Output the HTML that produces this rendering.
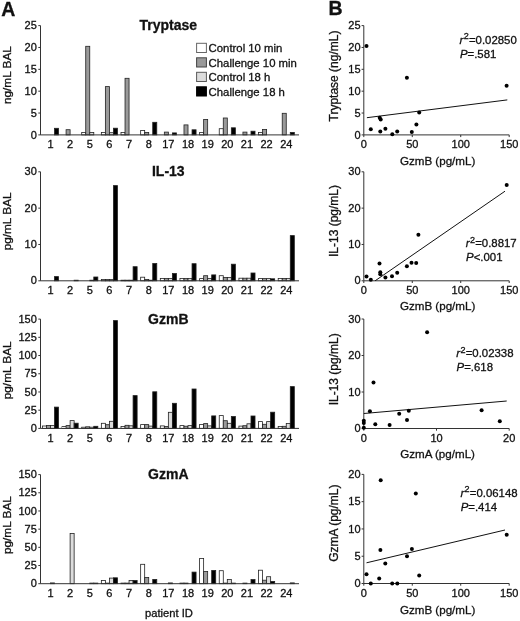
<!DOCTYPE html>
<html><head><meta charset="utf-8"><title>Figure</title>
<style>
html,body{margin:0;padding:0;background:#fff;}
body{width:520px;height:621px;overflow:hidden;}
svg{display:block;font-family:"Liberation Sans", sans-serif;filter:grayscale(100%) blur(0.3px);}
text{stroke:#111;stroke-width:0.3px;}
</style></head>
<body>
<svg width="520" height="621" viewBox="0 0 520 621">
<rect width="520" height="621" fill="#fff"/>
<text x="1.2" y="15.6" font-size="19.5" font-weight="bold" fill="#111">A</text>
<text x="328.6" y="14.8" font-size="19.5" font-weight="bold" fill="#111">B</text>
<text x="168.3" y="30.0" font-size="14.0" font-weight="bold" text-anchor="middle" fill="#111">Tryptase</text>
<rect x="54.49" y="128.3" width="4.03" height="6.6" fill="#000000" stroke="#222" stroke-width="0.8"/>
<text x="50.46" y="148.1" font-size="11.0" text-anchor="middle" fill="#111">1</text>
<rect x="66.08" y="129.7" width="4.03" height="5.2" fill="#9a9a9a" stroke="#222" stroke-width="0.8"/>
<text x="70.11" y="148.1" font-size="11.0" text-anchor="middle" fill="#111">2</text>
<rect x="81.7" y="132.4" width="4.03" height="2.5" fill="#ffffff" stroke="#222" stroke-width="0.8"/>
<rect x="85.73" y="46.3" width="4.03" height="88.6" fill="#9a9a9a" stroke="#222" stroke-width="0.8"/>
<rect x="89.76" y="132.4" width="4.03" height="2.5" fill="#dcdcdc" stroke="#222" stroke-width="0.8"/>
<text x="89.76" y="148.1" font-size="11.0" text-anchor="middle" fill="#111">5</text>
<rect x="101.35" y="132.4" width="4.03" height="2.5" fill="#ffffff" stroke="#222" stroke-width="0.8"/>
<rect x="105.38" y="86.6" width="4.03" height="48.3" fill="#9a9a9a" stroke="#222" stroke-width="0.8"/>
<rect x="109.41" y="132.7" width="4.03" height="2.2" fill="#dcdcdc" stroke="#222" stroke-width="0.8"/>
<rect x="113.44" y="128.2" width="4.03" height="6.7" fill="#000000" stroke="#222" stroke-width="0.8"/>
<text x="109.41" y="148.1" font-size="11.0" text-anchor="middle" fill="#111">6</text>
<rect x="121" y="132.4" width="4.03" height="2.5" fill="#ffffff" stroke="#222" stroke-width="0.8"/>
<rect x="125.03" y="78.3" width="4.03" height="56.6" fill="#9a9a9a" stroke="#222" stroke-width="0.8"/>
<text x="129.06" y="148.1" font-size="11.0" text-anchor="middle" fill="#111">7</text>
<rect x="140.65" y="130.5" width="4.03" height="4.4" fill="#ffffff" stroke="#222" stroke-width="0.8"/>
<rect x="144.68" y="132.4" width="4.03" height="2.5" fill="#9a9a9a" stroke="#222" stroke-width="0.8"/>
<rect x="152.74" y="122.3" width="4.03" height="12.6" fill="#000000" stroke="#222" stroke-width="0.8"/>
<text x="148.71" y="148.1" font-size="11.0" text-anchor="middle" fill="#111">8</text>
<rect x="164.33" y="132.1" width="4.03" height="2.8" fill="#9a9a9a" stroke="#222" stroke-width="0.8"/>
<rect x="172.39" y="132.9" width="4.03" height="2" fill="#000000" stroke="#222" stroke-width="0.8"/>
<text x="168.36" y="148.1" font-size="11.0" text-anchor="middle" fill="#111">17</text>
<rect x="183.98" y="124.9" width="4.03" height="10" fill="#9a9a9a" stroke="#222" stroke-width="0.8"/>
<rect x="192.04" y="129.8" width="4.03" height="5.1" fill="#000000" stroke="#222" stroke-width="0.8"/>
<text x="188.01" y="148.1" font-size="11.0" text-anchor="middle" fill="#111">18</text>
<rect x="199.6" y="132.4" width="4.03" height="2.5" fill="#ffffff" stroke="#222" stroke-width="0.8"/>
<rect x="203.63" y="119.4" width="4.03" height="15.5" fill="#9a9a9a" stroke="#222" stroke-width="0.8"/>
<text x="207.66" y="148.1" font-size="11.0" text-anchor="middle" fill="#111">19</text>
<rect x="219.25" y="128.7" width="4.03" height="6.2" fill="#ffffff" stroke="#222" stroke-width="0.8"/>
<rect x="223.28" y="118" width="4.03" height="16.9" fill="#9a9a9a" stroke="#222" stroke-width="0.8"/>
<rect x="231.34" y="127.8" width="4.03" height="7.1" fill="#000000" stroke="#222" stroke-width="0.8"/>
<text x="227.31" y="148.1" font-size="11.0" text-anchor="middle" fill="#111">20</text>
<rect x="242.93" y="132.1" width="4.03" height="2.8" fill="#9a9a9a" stroke="#222" stroke-width="0.8"/>
<rect x="250.99" y="131.2" width="4.03" height="3.7" fill="#000000" stroke="#222" stroke-width="0.8"/>
<text x="246.96" y="148.1" font-size="11.0" text-anchor="middle" fill="#111">21</text>
<rect x="258.55" y="132.5" width="4.03" height="2.4" fill="#ffffff" stroke="#222" stroke-width="0.8"/>
<rect x="262.58" y="129.4" width="4.03" height="5.5" fill="#9a9a9a" stroke="#222" stroke-width="0.8"/>
<text x="266.61" y="148.1" font-size="11.0" text-anchor="middle" fill="#111">22</text>
<rect x="282.23" y="113.3" width="4.03" height="21.6" fill="#9a9a9a" stroke="#222" stroke-width="0.8"/>
<rect x="290.29" y="132.4" width="4.03" height="2.5" fill="#000000" stroke="#222" stroke-width="0.8"/>
<text x="286.26" y="148.1" font-size="11.0" text-anchor="middle" fill="#111">24</text>
<path d="M40.5 25.6 V134.9 H299.0" fill="none" stroke="#333" stroke-width="1"/>
<path d="M38.3 134.9 H40.5" stroke="#333" stroke-width="1"/>
<text x="36.8" y="138.5" font-size="11.0" text-anchor="end" fill="#111">0</text>
<path d="M38.3 113.04 H40.5" stroke="#333" stroke-width="1"/>
<text x="36.8" y="116.64" font-size="11.0" text-anchor="end" fill="#111">5</text>
<path d="M38.3 91.18 H40.5" stroke="#333" stroke-width="1"/>
<text x="36.8" y="94.78" font-size="11.0" text-anchor="end" fill="#111">10</text>
<path d="M38.3 69.32 H40.5" stroke="#333" stroke-width="1"/>
<text x="36.8" y="72.92" font-size="11.0" text-anchor="end" fill="#111">15</text>
<path d="M38.3 47.46 H40.5" stroke="#333" stroke-width="1"/>
<text x="36.8" y="51.06" font-size="11.0" text-anchor="end" fill="#111">20</text>
<path d="M38.3 25.6 H40.5" stroke="#333" stroke-width="1"/>
<text x="36.8" y="29.2" font-size="11.0" text-anchor="end" fill="#111">25</text>
<text transform="translate(11.0 75.1) rotate(-90)" font-size="11.8" text-anchor="middle" fill="#111">ng/mL BAL</text>
<text x="168.3" y="175.8" font-size="14.0" font-weight="bold" text-anchor="middle" fill="#111">IL-13</text>
<rect x="54.49" y="276.6" width="4.03" height="4.2" fill="#000000" stroke="#222" stroke-width="0.8"/>
<text x="50.46" y="294" font-size="11.0" text-anchor="middle" fill="#111">1</text>
<rect x="74.14" y="280.2" width="4.03" height="0.6" fill="#000000" stroke="#222" stroke-width="0.8"/>
<text x="70.11" y="294" font-size="11.0" text-anchor="middle" fill="#111">2</text>
<rect x="89.76" y="280.2" width="4.03" height="0.6" fill="#dcdcdc" stroke="#222" stroke-width="0.8"/>
<rect x="93.79" y="277" width="4.03" height="3.8" fill="#000000" stroke="#222" stroke-width="0.8"/>
<text x="89.76" y="294" font-size="11.0" text-anchor="middle" fill="#111">5</text>
<rect x="101.35" y="279.5" width="4.03" height="1.3" fill="#ffffff" stroke="#222" stroke-width="0.8"/>
<rect x="105.38" y="279.5" width="4.03" height="1.3" fill="#9a9a9a" stroke="#222" stroke-width="0.8"/>
<rect x="109.41" y="279.5" width="4.03" height="1.3" fill="#dcdcdc" stroke="#222" stroke-width="0.8"/>
<rect x="113.44" y="185.6" width="4.03" height="95.2" fill="#000000" stroke="#222" stroke-width="0.8"/>
<text x="109.41" y="294" font-size="11.0" text-anchor="middle" fill="#111">6</text>
<rect x="121" y="280.2" width="4.03" height="0.6" fill="#ffffff" stroke="#222" stroke-width="0.8"/>
<rect x="125.03" y="280.2" width="4.03" height="0.6" fill="#9a9a9a" stroke="#222" stroke-width="0.8"/>
<rect x="129.06" y="280.2" width="4.03" height="0.6" fill="#dcdcdc" stroke="#222" stroke-width="0.8"/>
<rect x="133.09" y="266.7" width="4.03" height="14.1" fill="#000000" stroke="#222" stroke-width="0.8"/>
<text x="129.06" y="294" font-size="11.0" text-anchor="middle" fill="#111">7</text>
<rect x="140.65" y="277.2" width="4.03" height="3.6" fill="#ffffff" stroke="#222" stroke-width="0.8"/>
<rect x="144.68" y="279.4" width="4.03" height="1.4" fill="#9a9a9a" stroke="#222" stroke-width="0.8"/>
<rect x="148.71" y="280.2" width="4.03" height="0.6" fill="#dcdcdc" stroke="#222" stroke-width="0.8"/>
<rect x="152.74" y="263.5" width="4.03" height="17.3" fill="#000000" stroke="#222" stroke-width="0.8"/>
<text x="148.71" y="294" font-size="11.0" text-anchor="middle" fill="#111">8</text>
<rect x="160.3" y="278.4" width="4.03" height="2.4" fill="#ffffff" stroke="#222" stroke-width="0.8"/>
<rect x="164.33" y="278.4" width="4.03" height="2.4" fill="#9a9a9a" stroke="#222" stroke-width="0.8"/>
<rect x="168.36" y="278.4" width="4.03" height="2.4" fill="#dcdcdc" stroke="#222" stroke-width="0.8"/>
<rect x="172.39" y="273.5" width="4.03" height="7.3" fill="#000000" stroke="#222" stroke-width="0.8"/>
<text x="168.36" y="294" font-size="11.0" text-anchor="middle" fill="#111">17</text>
<rect x="179.95" y="278.4" width="4.03" height="2.4" fill="#ffffff" stroke="#222" stroke-width="0.8"/>
<rect x="183.98" y="278.4" width="4.03" height="2.4" fill="#9a9a9a" stroke="#222" stroke-width="0.8"/>
<rect x="188.01" y="278.4" width="4.03" height="2.4" fill="#dcdcdc" stroke="#222" stroke-width="0.8"/>
<rect x="192.04" y="263.7" width="4.03" height="17.1" fill="#000000" stroke="#222" stroke-width="0.8"/>
<text x="188.01" y="294" font-size="11.0" text-anchor="middle" fill="#111">18</text>
<rect x="199.6" y="278.6" width="4.03" height="2.2" fill="#ffffff" stroke="#222" stroke-width="0.8"/>
<rect x="203.63" y="275.7" width="4.03" height="5.1" fill="#9a9a9a" stroke="#222" stroke-width="0.8"/>
<rect x="207.66" y="278.4" width="4.03" height="2.4" fill="#dcdcdc" stroke="#222" stroke-width="0.8"/>
<rect x="211.69" y="274.9" width="4.03" height="5.9" fill="#000000" stroke="#222" stroke-width="0.8"/>
<text x="207.66" y="294" font-size="11.0" text-anchor="middle" fill="#111">19</text>
<rect x="219.25" y="275.7" width="4.03" height="5.1" fill="#ffffff" stroke="#222" stroke-width="0.8"/>
<rect x="223.28" y="277.5" width="4.03" height="3.3" fill="#9a9a9a" stroke="#222" stroke-width="0.8"/>
<rect x="227.31" y="277.5" width="4.03" height="3.3" fill="#dcdcdc" stroke="#222" stroke-width="0.8"/>
<rect x="231.34" y="264.2" width="4.03" height="16.6" fill="#000000" stroke="#222" stroke-width="0.8"/>
<text x="227.31" y="294" font-size="11.0" text-anchor="middle" fill="#111">20</text>
<rect x="238.9" y="278.2" width="4.03" height="2.6" fill="#ffffff" stroke="#222" stroke-width="0.8"/>
<rect x="242.93" y="278.2" width="4.03" height="2.6" fill="#9a9a9a" stroke="#222" stroke-width="0.8"/>
<rect x="246.96" y="278.2" width="4.03" height="2.6" fill="#dcdcdc" stroke="#222" stroke-width="0.8"/>
<rect x="250.99" y="273" width="4.03" height="7.8" fill="#000000" stroke="#222" stroke-width="0.8"/>
<text x="246.96" y="294" font-size="11.0" text-anchor="middle" fill="#111">21</text>
<rect x="258.55" y="278.6" width="4.03" height="2.2" fill="#ffffff" stroke="#222" stroke-width="0.8"/>
<rect x="262.58" y="278.6" width="4.03" height="2.2" fill="#9a9a9a" stroke="#222" stroke-width="0.8"/>
<rect x="266.61" y="278.6" width="4.03" height="2.2" fill="#dcdcdc" stroke="#222" stroke-width="0.8"/>
<rect x="270.64" y="278.8" width="4.03" height="2" fill="#000000" stroke="#222" stroke-width="0.8"/>
<text x="266.61" y="294" font-size="11.0" text-anchor="middle" fill="#111">22</text>
<rect x="278.2" y="278.4" width="4.03" height="2.4" fill="#ffffff" stroke="#222" stroke-width="0.8"/>
<rect x="282.23" y="278.4" width="4.03" height="2.4" fill="#9a9a9a" stroke="#222" stroke-width="0.8"/>
<rect x="286.26" y="278.4" width="4.03" height="2.4" fill="#dcdcdc" stroke="#222" stroke-width="0.8"/>
<rect x="290.29" y="235.6" width="4.03" height="45.2" fill="#000000" stroke="#222" stroke-width="0.8"/>
<text x="286.26" y="294" font-size="11.0" text-anchor="middle" fill="#111">24</text>
<path d="M40.5 171.8 V280.8 H299.0" fill="none" stroke="#333" stroke-width="1"/>
<path d="M38.3 280.8 H40.5" stroke="#333" stroke-width="1"/>
<text x="36.8" y="284.4" font-size="11.0" text-anchor="end" fill="#111">0</text>
<path d="M38.3 244.47 H40.5" stroke="#333" stroke-width="1"/>
<text x="36.8" y="248.07" font-size="11.0" text-anchor="end" fill="#111">10</text>
<path d="M38.3 208.13 H40.5" stroke="#333" stroke-width="1"/>
<text x="36.8" y="211.73" font-size="11.0" text-anchor="end" fill="#111">20</text>
<path d="M38.3 171.8 H40.5" stroke="#333" stroke-width="1"/>
<text x="36.8" y="175.4" font-size="11.0" text-anchor="end" fill="#111">30</text>
<text transform="translate(11.0 221.4) rotate(-90)" font-size="11.8" text-anchor="middle" fill="#111">pg/mL BAL</text>
<text x="168.3" y="323.8" font-size="14.0" font-weight="bold" text-anchor="middle" fill="#111">GzmB</text>
<rect x="42.4" y="426" width="4.03" height="2.4" fill="#ffffff" stroke="#222" stroke-width="0.8"/>
<rect x="46.43" y="425.4" width="4.03" height="3" fill="#9a9a9a" stroke="#222" stroke-width="0.8"/>
<rect x="50.46" y="425.4" width="4.03" height="3" fill="#dcdcdc" stroke="#222" stroke-width="0.8"/>
<rect x="54.49" y="407.1" width="4.03" height="21.3" fill="#000000" stroke="#222" stroke-width="0.8"/>
<text x="50.46" y="441.6" font-size="11.0" text-anchor="middle" fill="#111">1</text>
<rect x="62.05" y="426.6" width="4.03" height="1.8" fill="#ffffff" stroke="#222" stroke-width="0.8"/>
<rect x="66.08" y="425.6" width="4.03" height="2.8" fill="#9a9a9a" stroke="#222" stroke-width="0.8"/>
<rect x="70.11" y="420.6" width="4.03" height="7.8" fill="#dcdcdc" stroke="#222" stroke-width="0.8"/>
<rect x="74.14" y="423.2" width="4.03" height="5.2" fill="#000000" stroke="#222" stroke-width="0.8"/>
<text x="70.11" y="441.6" font-size="11.0" text-anchor="middle" fill="#111">2</text>
<rect x="81.7" y="427.2" width="4.03" height="1.2" fill="#ffffff" stroke="#222" stroke-width="0.8"/>
<rect x="85.73" y="426.8" width="4.03" height="1.6" fill="#9a9a9a" stroke="#222" stroke-width="0.8"/>
<rect x="89.76" y="427.2" width="4.03" height="1.2" fill="#dcdcdc" stroke="#222" stroke-width="0.8"/>
<rect x="93.79" y="426.3" width="4.03" height="2.1" fill="#000000" stroke="#222" stroke-width="0.8"/>
<text x="89.76" y="441.6" font-size="11.0" text-anchor="middle" fill="#111">5</text>
<rect x="101.35" y="423.3" width="4.03" height="5.1" fill="#ffffff" stroke="#222" stroke-width="0.8"/>
<rect x="105.38" y="424.7" width="4.03" height="3.7" fill="#9a9a9a" stroke="#222" stroke-width="0.8"/>
<rect x="109.41" y="421.3" width="4.03" height="7.1" fill="#dcdcdc" stroke="#222" stroke-width="0.8"/>
<rect x="113.44" y="320.6" width="4.03" height="107.8" fill="#000000" stroke="#222" stroke-width="0.8"/>
<text x="109.41" y="441.6" font-size="11.0" text-anchor="middle" fill="#111">6</text>
<rect x="121" y="426.4" width="4.03" height="2" fill="#ffffff" stroke="#222" stroke-width="0.8"/>
<rect x="125.03" y="425.3" width="4.03" height="3.1" fill="#9a9a9a" stroke="#222" stroke-width="0.8"/>
<rect x="129.06" y="425.8" width="4.03" height="2.6" fill="#dcdcdc" stroke="#222" stroke-width="0.8"/>
<rect x="133.09" y="395.6" width="4.03" height="32.8" fill="#000000" stroke="#222" stroke-width="0.8"/>
<text x="129.06" y="441.6" font-size="11.0" text-anchor="middle" fill="#111">7</text>
<rect x="140.65" y="424.6" width="4.03" height="3.8" fill="#ffffff" stroke="#222" stroke-width="0.8"/>
<rect x="144.68" y="424.6" width="4.03" height="3.8" fill="#9a9a9a" stroke="#222" stroke-width="0.8"/>
<rect x="148.71" y="426.1" width="4.03" height="2.3" fill="#dcdcdc" stroke="#222" stroke-width="0.8"/>
<rect x="152.74" y="391.8" width="4.03" height="36.6" fill="#000000" stroke="#222" stroke-width="0.8"/>
<text x="148.71" y="441.6" font-size="11.0" text-anchor="middle" fill="#111">8</text>
<rect x="160.3" y="425.9" width="4.03" height="2.5" fill="#ffffff" stroke="#222" stroke-width="0.8"/>
<rect x="164.33" y="426.4" width="4.03" height="2" fill="#9a9a9a" stroke="#222" stroke-width="0.8"/>
<rect x="168.36" y="412.3" width="4.03" height="16.1" fill="#dcdcdc" stroke="#222" stroke-width="0.8"/>
<rect x="172.39" y="403.3" width="4.03" height="25.1" fill="#000000" stroke="#222" stroke-width="0.8"/>
<text x="168.36" y="441.6" font-size="11.0" text-anchor="middle" fill="#111">17</text>
<rect x="179.95" y="425.6" width="4.03" height="2.8" fill="#ffffff" stroke="#222" stroke-width="0.8"/>
<rect x="183.98" y="426.2" width="4.03" height="2.2" fill="#9a9a9a" stroke="#222" stroke-width="0.8"/>
<rect x="188.01" y="425.6" width="4.03" height="2.8" fill="#dcdcdc" stroke="#222" stroke-width="0.8"/>
<rect x="192.04" y="389" width="4.03" height="39.4" fill="#000000" stroke="#222" stroke-width="0.8"/>
<text x="188.01" y="441.6" font-size="11.0" text-anchor="middle" fill="#111">18</text>
<rect x="199.6" y="424.4" width="4.03" height="4" fill="#ffffff" stroke="#222" stroke-width="0.8"/>
<rect x="203.63" y="423.6" width="4.03" height="4.8" fill="#9a9a9a" stroke="#222" stroke-width="0.8"/>
<rect x="207.66" y="425.9" width="4.03" height="2.5" fill="#dcdcdc" stroke="#222" stroke-width="0.8"/>
<rect x="211.69" y="415.9" width="4.03" height="12.5" fill="#000000" stroke="#222" stroke-width="0.8"/>
<text x="207.66" y="441.6" font-size="11.0" text-anchor="middle" fill="#111">19</text>
<rect x="219.25" y="415.6" width="4.03" height="12.8" fill="#ffffff" stroke="#222" stroke-width="0.8"/>
<rect x="223.28" y="420.7" width="4.03" height="7.7" fill="#9a9a9a" stroke="#222" stroke-width="0.8"/>
<rect x="227.31" y="423.3" width="4.03" height="5.1" fill="#dcdcdc" stroke="#222" stroke-width="0.8"/>
<rect x="231.34" y="416.5" width="4.03" height="11.9" fill="#000000" stroke="#222" stroke-width="0.8"/>
<text x="227.31" y="441.6" font-size="11.0" text-anchor="middle" fill="#111">20</text>
<rect x="238.9" y="426.1" width="4.03" height="2.3" fill="#ffffff" stroke="#222" stroke-width="0.8"/>
<rect x="242.93" y="425.7" width="4.03" height="2.7" fill="#9a9a9a" stroke="#222" stroke-width="0.8"/>
<rect x="246.96" y="423.8" width="4.03" height="4.6" fill="#dcdcdc" stroke="#222" stroke-width="0.8"/>
<rect x="250.99" y="416" width="4.03" height="12.4" fill="#000000" stroke="#222" stroke-width="0.8"/>
<text x="246.96" y="441.6" font-size="11.0" text-anchor="middle" fill="#111">21</text>
<rect x="258.55" y="421.6" width="4.03" height="6.8" fill="#ffffff" stroke="#222" stroke-width="0.8"/>
<rect x="262.58" y="424.3" width="4.03" height="4.1" fill="#9a9a9a" stroke="#222" stroke-width="0.8"/>
<rect x="266.61" y="421.6" width="4.03" height="6.8" fill="#dcdcdc" stroke="#222" stroke-width="0.8"/>
<rect x="270.64" y="412.2" width="4.03" height="16.2" fill="#000000" stroke="#222" stroke-width="0.8"/>
<text x="266.61" y="441.6" font-size="11.0" text-anchor="middle" fill="#111">22</text>
<rect x="278.2" y="426.5" width="4.03" height="1.9" fill="#ffffff" stroke="#222" stroke-width="0.8"/>
<rect x="282.23" y="426.3" width="4.03" height="2.1" fill="#9a9a9a" stroke="#222" stroke-width="0.8"/>
<rect x="286.26" y="423.4" width="4.03" height="5" fill="#dcdcdc" stroke="#222" stroke-width="0.8"/>
<rect x="290.29" y="386.6" width="4.03" height="41.8" fill="#000000" stroke="#222" stroke-width="0.8"/>
<text x="286.26" y="441.6" font-size="11.0" text-anchor="middle" fill="#111">24</text>
<path d="M40.5 319.1 V428.4 H299.0" fill="none" stroke="#333" stroke-width="1"/>
<path d="M38.3 428.4 H40.5" stroke="#333" stroke-width="1"/>
<text x="36.8" y="432" font-size="11.0" text-anchor="end" fill="#111">0</text>
<path d="M38.3 410.18 H40.5" stroke="#333" stroke-width="1"/>
<text x="36.8" y="413.78" font-size="11.0" text-anchor="end" fill="#111">25</text>
<path d="M38.3 391.97 H40.5" stroke="#333" stroke-width="1"/>
<text x="36.8" y="395.57" font-size="11.0" text-anchor="end" fill="#111">50</text>
<path d="M38.3 373.75 H40.5" stroke="#333" stroke-width="1"/>
<text x="36.8" y="377.35" font-size="11.0" text-anchor="end" fill="#111">75</text>
<path d="M38.3 355.53 H40.5" stroke="#333" stroke-width="1"/>
<text x="36.8" y="359.13" font-size="11.0" text-anchor="end" fill="#111">100</text>
<path d="M38.3 337.32 H40.5" stroke="#333" stroke-width="1"/>
<text x="36.8" y="340.92" font-size="11.0" text-anchor="end" fill="#111">125</text>
<path d="M38.3 319.1 H40.5" stroke="#333" stroke-width="1"/>
<text x="36.8" y="322.7" font-size="11.0" text-anchor="end" fill="#111">150</text>
<text transform="translate(11.0 370.3) rotate(-90)" font-size="11.8" text-anchor="middle" fill="#111">pg/mL BAL</text>
<text x="168.3" y="478.8" font-size="14.0" font-weight="bold" text-anchor="middle" fill="#111">GzmA</text>
<rect x="50.46" y="582.9" width="4.03" height="0.8" fill="#dcdcdc" stroke="#222" stroke-width="0.8"/>
<text x="50.46" y="596.9" font-size="11.0" text-anchor="middle" fill="#111">1</text>
<rect x="70.11" y="533.4" width="4.03" height="50.3" fill="#dcdcdc" stroke="#222" stroke-width="0.8"/>
<text x="70.11" y="596.9" font-size="11.0" text-anchor="middle" fill="#111">2</text>
<rect x="89.76" y="583.1" width="4.03" height="0.6" fill="#dcdcdc" stroke="#222" stroke-width="0.8"/>
<rect x="93.79" y="583.1" width="4.03" height="0.6" fill="#000000" stroke="#222" stroke-width="0.8"/>
<text x="89.76" y="596.9" font-size="11.0" text-anchor="middle" fill="#111">5</text>
<rect x="101.35" y="580.5" width="4.03" height="3.2" fill="#ffffff" stroke="#222" stroke-width="0.8"/>
<rect x="105.38" y="583.1" width="4.03" height="0.6" fill="#9a9a9a" stroke="#222" stroke-width="0.8"/>
<rect x="109.41" y="578.1" width="4.03" height="5.6" fill="#dcdcdc" stroke="#222" stroke-width="0.8"/>
<rect x="113.44" y="577.8" width="4.03" height="5.9" fill="#000000" stroke="#222" stroke-width="0.8"/>
<text x="109.41" y="596.9" font-size="11.0" text-anchor="middle" fill="#111">6</text>
<rect x="121" y="583.1" width="4.03" height="0.6" fill="#ffffff" stroke="#222" stroke-width="0.8"/>
<rect x="125.03" y="583.1" width="4.03" height="0.6" fill="#9a9a9a" stroke="#222" stroke-width="0.8"/>
<rect x="129.06" y="580.5" width="4.03" height="3.2" fill="#dcdcdc" stroke="#222" stroke-width="0.8"/>
<rect x="133.09" y="580.5" width="4.03" height="3.2" fill="#000000" stroke="#222" stroke-width="0.8"/>
<text x="129.06" y="596.9" font-size="11.0" text-anchor="middle" fill="#111">7</text>
<rect x="140.65" y="564.3" width="4.03" height="19.4" fill="#ffffff" stroke="#222" stroke-width="0.8"/>
<rect x="144.68" y="577.5" width="4.03" height="6.2" fill="#9a9a9a" stroke="#222" stroke-width="0.8"/>
<rect x="152.74" y="579.4" width="4.03" height="4.3" fill="#000000" stroke="#222" stroke-width="0.8"/>
<text x="148.71" y="596.9" font-size="11.0" text-anchor="middle" fill="#111">8</text>
<rect x="168.36" y="582.9" width="4.03" height="0.8" fill="#dcdcdc" stroke="#222" stroke-width="0.8"/>
<text x="168.36" y="596.9" font-size="11.0" text-anchor="middle" fill="#111">17</text>
<rect x="179.95" y="583.1" width="4.03" height="0.6" fill="#ffffff" stroke="#222" stroke-width="0.8"/>
<rect x="183.98" y="583.1" width="4.03" height="0.6" fill="#9a9a9a" stroke="#222" stroke-width="0.8"/>
<rect x="192.04" y="572.1" width="4.03" height="11.6" fill="#000000" stroke="#222" stroke-width="0.8"/>
<text x="188.01" y="596.9" font-size="11.0" text-anchor="middle" fill="#111">18</text>
<rect x="199.6" y="558.4" width="4.03" height="25.3" fill="#ffffff" stroke="#222" stroke-width="0.8"/>
<rect x="203.63" y="571.4" width="4.03" height="12.3" fill="#9a9a9a" stroke="#222" stroke-width="0.8"/>
<rect x="211.69" y="570.4" width="4.03" height="13.3" fill="#000000" stroke="#222" stroke-width="0.8"/>
<text x="207.66" y="596.9" font-size="11.0" text-anchor="middle" fill="#111">19</text>
<rect x="219.25" y="570.7" width="4.03" height="13" fill="#ffffff" stroke="#222" stroke-width="0.8"/>
<rect x="223.28" y="583.1" width="4.03" height="0.6" fill="#9a9a9a" stroke="#222" stroke-width="0.8"/>
<rect x="227.31" y="579.6" width="4.03" height="4.1" fill="#dcdcdc" stroke="#222" stroke-width="0.8"/>
<rect x="231.34" y="583.1" width="4.03" height="0.6" fill="#000000" stroke="#222" stroke-width="0.8"/>
<text x="227.31" y="596.9" font-size="11.0" text-anchor="middle" fill="#111">20</text>
<rect x="242.93" y="583.1" width="4.03" height="0.6" fill="#9a9a9a" stroke="#222" stroke-width="0.8"/>
<rect x="250.99" y="579.6" width="4.03" height="4.1" fill="#000000" stroke="#222" stroke-width="0.8"/>
<text x="246.96" y="596.9" font-size="11.0" text-anchor="middle" fill="#111">21</text>
<rect x="258.55" y="570.2" width="4.03" height="13.5" fill="#ffffff" stroke="#222" stroke-width="0.8"/>
<rect x="262.58" y="580.2" width="4.03" height="3.5" fill="#9a9a9a" stroke="#222" stroke-width="0.8"/>
<rect x="266.61" y="576.7" width="4.03" height="7" fill="#dcdcdc" stroke="#222" stroke-width="0.8"/>
<rect x="270.64" y="581.4" width="4.03" height="2.3" fill="#000000" stroke="#222" stroke-width="0.8"/>
<text x="266.61" y="596.9" font-size="11.0" text-anchor="middle" fill="#111">22</text>
<rect x="290.29" y="582.9" width="4.03" height="0.8" fill="#000000" stroke="#222" stroke-width="0.8"/>
<text x="286.26" y="596.9" font-size="11.0" text-anchor="middle" fill="#111">24</text>
<path d="M40.5 474.6 V583.7 H299.0" fill="none" stroke="#333" stroke-width="1"/>
<path d="M38.3 583.7 H40.5" stroke="#333" stroke-width="1"/>
<text x="36.8" y="587.3" font-size="11.0" text-anchor="end" fill="#111">0</text>
<path d="M38.3 565.52 H40.5" stroke="#333" stroke-width="1"/>
<text x="36.8" y="569.12" font-size="11.0" text-anchor="end" fill="#111">25</text>
<path d="M38.3 547.33 H40.5" stroke="#333" stroke-width="1"/>
<text x="36.8" y="550.93" font-size="11.0" text-anchor="end" fill="#111">50</text>
<path d="M38.3 529.15 H40.5" stroke="#333" stroke-width="1"/>
<text x="36.8" y="532.75" font-size="11.0" text-anchor="end" fill="#111">75</text>
<path d="M38.3 510.97 H40.5" stroke="#333" stroke-width="1"/>
<text x="36.8" y="514.57" font-size="11.0" text-anchor="end" fill="#111">100</text>
<path d="M38.3 492.78 H40.5" stroke="#333" stroke-width="1"/>
<text x="36.8" y="496.38" font-size="11.0" text-anchor="end" fill="#111">125</text>
<path d="M38.3 474.6 H40.5" stroke="#333" stroke-width="1"/>
<text x="36.8" y="478.2" font-size="11.0" text-anchor="end" fill="#111">150</text>
<text transform="translate(11.0 525.1) rotate(-90)" font-size="11.8" text-anchor="middle" fill="#111">pg/mL BAL</text>
<text x="169" y="616.6" font-size="11.2" text-anchor="middle" fill="#111">patient ID</text>
<rect x="196.6" y="43.3" width="9.8" height="9.2" fill="#ffffff" stroke="#666" stroke-width="1"/>
<text x="208.6" y="52.1" font-size="11.35" fill="#111">Control 10 min</text>
<rect x="196.6" y="57.8" width="9.8" height="9.2" fill="#9a9a9a" stroke="#444" stroke-width="1"/>
<text x="208.6" y="66.6" font-size="11.35" fill="#111">Challenge 10 min</text>
<rect x="196.6" y="72.3" width="9.8" height="9.2" fill="#dcdcdc" stroke="#5a5a5a" stroke-width="1"/>
<text x="208.6" y="81.1" font-size="11.35" fill="#111">Control 18 h</text>
<rect x="196.6" y="86.8" width="9.8" height="9.2" fill="#000000" stroke="#000" stroke-width="1"/>
<text x="208.6" y="95.6" font-size="11.35" fill="#111">Challenge 18 h</text>
<path d="M363.8 25.6 V134.9 H509.2" fill="none" stroke="#333" stroke-width="1"/>
<path d="M361.6 134.9 H363.8" stroke="#333" stroke-width="1"/>
<text x="360.6" y="138.5" font-size="11.0" text-anchor="end" fill="#111">0</text>
<path d="M361.6 113.04 H363.8" stroke="#333" stroke-width="1"/>
<text x="360.6" y="116.64" font-size="11.0" text-anchor="end" fill="#111">5</text>
<path d="M361.6 91.18 H363.8" stroke="#333" stroke-width="1"/>
<text x="360.6" y="94.78" font-size="11.0" text-anchor="end" fill="#111">10</text>
<path d="M361.6 69.32 H363.8" stroke="#333" stroke-width="1"/>
<text x="360.6" y="72.92" font-size="11.0" text-anchor="end" fill="#111">15</text>
<path d="M361.6 47.46 H363.8" stroke="#333" stroke-width="1"/>
<text x="360.6" y="51.06" font-size="11.0" text-anchor="end" fill="#111">20</text>
<path d="M361.6 25.6 H363.8" stroke="#333" stroke-width="1"/>
<text x="360.6" y="29.2" font-size="11.0" text-anchor="end" fill="#111">25</text>
<path d="M363.8 134.9 V137.1" stroke="#333" stroke-width="1"/>
<text x="363.8" y="148.3" font-size="11.0" text-anchor="middle" fill="#111">0</text>
<path d="M412.27 134.9 V137.1" stroke="#333" stroke-width="1"/>
<text x="412.27" y="148.3" font-size="11.0" text-anchor="middle" fill="#111">50</text>
<path d="M460.73 134.9 V137.1" stroke="#333" stroke-width="1"/>
<text x="460.73" y="148.3" font-size="11.0" text-anchor="middle" fill="#111">100</text>
<path d="M509.2 134.9 V137.1" stroke="#333" stroke-width="1"/>
<text x="509.2" y="148.3" font-size="11.0" text-anchor="middle" fill="#111">150</text>
<path d="M366.9 117.7 L507.3 99.9" stroke="#111" stroke-width="1"/>
<circle cx="366.5" cy="45.9" r="2.0" fill="#000"/>
<circle cx="406.9" cy="77.8" r="2.0" fill="#000"/>
<circle cx="506.6" cy="85.8" r="2.0" fill="#000"/>
<circle cx="419.2" cy="112.5" r="2.0" fill="#000"/>
<circle cx="416.4" cy="124.4" r="2.0" fill="#000"/>
<circle cx="379.7" cy="117.8" r="2.0" fill="#000"/>
<circle cx="380.7" cy="119.6" r="2.0" fill="#000"/>
<circle cx="370.8" cy="129.2" r="2.0" fill="#000"/>
<circle cx="380.3" cy="131.5" r="2.0" fill="#000"/>
<circle cx="385.4" cy="128.8" r="2.0" fill="#000"/>
<circle cx="392.3" cy="134.3" r="2.0" fill="#000"/>
<circle cx="397.2" cy="131.5" r="2.0" fill="#000"/>
<circle cx="411.8" cy="132.0" r="2.0" fill="#000"/>
<text transform="translate(338.3 76.0) rotate(-90)" font-size="12.0" text-anchor="middle" fill="#111">Tryptase (ng/mL)</text>
<text x="437.6" y="164.7" font-size="11.6" text-anchor="middle" fill="#111">GzmB (pg/mL)</text>
<text x="459.6" y="43.8" font-size="11.4" fill="#111"><tspan font-style="italic">r</tspan><tspan font-size="9.1" dy="-4.4" dx="0.3">2</tspan><tspan dy="4.4" dx="0.2">=0.02850</tspan></text>
<text x="459.90000000000003" y="57.699999999999996" font-size="11.4" fill="#111"><tspan font-style="italic">P</tspan>=.581</text>
<path d="M363.8 171.8 V280.8 H509.2" fill="none" stroke="#333" stroke-width="1"/>
<path d="M361.6 280.8 H363.8" stroke="#333" stroke-width="1"/>
<text x="360.6" y="284.4" font-size="11.0" text-anchor="end" fill="#111">0</text>
<path d="M361.6 244.47 H363.8" stroke="#333" stroke-width="1"/>
<text x="360.6" y="248.07" font-size="11.0" text-anchor="end" fill="#111">10</text>
<path d="M361.6 208.13 H363.8" stroke="#333" stroke-width="1"/>
<text x="360.6" y="211.73" font-size="11.0" text-anchor="end" fill="#111">20</text>
<path d="M361.6 171.8 H363.8" stroke="#333" stroke-width="1"/>
<text x="360.6" y="175.4" font-size="11.0" text-anchor="end" fill="#111">30</text>
<path d="M363.8 280.8 V283" stroke="#333" stroke-width="1"/>
<text x="363.8" y="294.2" font-size="11.0" text-anchor="middle" fill="#111">0</text>
<path d="M412.27 280.8 V283" stroke="#333" stroke-width="1"/>
<text x="412.27" y="294.2" font-size="11.0" text-anchor="middle" fill="#111">50</text>
<path d="M460.73 280.8 V283" stroke="#333" stroke-width="1"/>
<text x="460.73" y="294.2" font-size="11.0" text-anchor="middle" fill="#111">100</text>
<path d="M509.2 280.8 V283" stroke="#333" stroke-width="1"/>
<text x="509.2" y="294.2" font-size="11.0" text-anchor="middle" fill="#111">150</text>
<path d="M375.1 280.8 L505.0 191.2" stroke="#111" stroke-width="1"/>
<circle cx="366.5" cy="276.5" r="2.0" fill="#000"/>
<circle cx="370.8" cy="279.7" r="2.0" fill="#000"/>
<circle cx="379.5" cy="263.4" r="2.0" fill="#000"/>
<circle cx="380.3" cy="272.3" r="2.0" fill="#000"/>
<circle cx="380.3" cy="274.2" r="2.0" fill="#000"/>
<circle cx="385.4" cy="277.4" r="2.0" fill="#000"/>
<circle cx="392.0" cy="276.2" r="2.0" fill="#000"/>
<circle cx="397.2" cy="272.8" r="2.0" fill="#000"/>
<circle cx="406.9" cy="266.2" r="2.0" fill="#000"/>
<circle cx="411.5" cy="262.8" r="2.0" fill="#000"/>
<circle cx="416.2" cy="263.1" r="2.0" fill="#000"/>
<circle cx="418.4" cy="234.8" r="2.0" fill="#000"/>
<circle cx="506.7" cy="185.1" r="2.0" fill="#000"/>
<text transform="translate(338.3 221.0) rotate(-90)" font-size="12.0" text-anchor="middle" fill="#111">IL-13 (pg/mL)</text>
<text x="437.6" y="309.6" font-size="11.6" text-anchor="middle" fill="#111">GzmB (pg/mL)</text>
<text x="465.8" y="246.9" font-size="11.4" fill="#111"><tspan font-style="italic">r</tspan><tspan font-size="9.1" dy="-4.4" dx="0.3">2</tspan><tspan dy="4.4" dx="0.2">=0.8817</tspan></text>
<text x="466.1" y="260.8" font-size="11.4" fill="#111"><tspan font-style="italic">P</tspan><.001</text>
<path d="M363.8 319 V428.5 H509.2" fill="none" stroke="#333" stroke-width="1"/>
<path d="M361.6 428.5 H363.8" stroke="#333" stroke-width="1"/>
<text x="360.6" y="432.1" font-size="11.0" text-anchor="end" fill="#111">0</text>
<path d="M361.6 392 H363.8" stroke="#333" stroke-width="1"/>
<text x="360.6" y="395.6" font-size="11.0" text-anchor="end" fill="#111">10</text>
<path d="M361.6 355.5 H363.8" stroke="#333" stroke-width="1"/>
<text x="360.6" y="359.1" font-size="11.0" text-anchor="end" fill="#111">20</text>
<path d="M361.6 319 H363.8" stroke="#333" stroke-width="1"/>
<text x="360.6" y="322.6" font-size="11.0" text-anchor="end" fill="#111">30</text>
<path d="M363.8 428.5 V430.7" stroke="#333" stroke-width="1"/>
<text x="363.8" y="441.9" font-size="11.0" text-anchor="middle" fill="#111">0</text>
<path d="M436.5 428.5 V430.7" stroke="#333" stroke-width="1"/>
<text x="436.5" y="441.9" font-size="11.0" text-anchor="middle" fill="#111">10</text>
<path d="M509.2 428.5 V430.7" stroke="#333" stroke-width="1"/>
<text x="509.2" y="441.9" font-size="11.0" text-anchor="middle" fill="#111">20</text>
<path d="M363.8 413.5 L506.7 401.0" stroke="#111" stroke-width="1"/>
<circle cx="373.5" cy="382.6" r="2.0" fill="#000"/>
<circle cx="369.9" cy="411.2" r="2.0" fill="#000"/>
<circle cx="375.3" cy="424.2" r="2.0" fill="#000"/>
<circle cx="389.6" cy="425.1" r="2.0" fill="#000"/>
<circle cx="399.2" cy="413.8" r="2.0" fill="#000"/>
<circle cx="408.8" cy="410.8" r="2.0" fill="#000"/>
<circle cx="407.0" cy="420.0" r="2.0" fill="#000"/>
<circle cx="363.8" cy="420.8" r="2.0" fill="#000"/>
<circle cx="363.8" cy="423.0" r="2.0" fill="#000"/>
<circle cx="363.8" cy="427.7" r="2.0" fill="#000"/>
<circle cx="427.1" cy="332.3" r="2.0" fill="#000"/>
<circle cx="481.6" cy="410.3" r="2.0" fill="#000"/>
<circle cx="499.8" cy="421.2" r="2.0" fill="#000"/>
<text transform="translate(338.3 369.3) rotate(-90)" font-size="12.0" text-anchor="middle" fill="#111">IL-13 (pg/mL)</text>
<text x="437.6" y="458.0" font-size="11.6" text-anchor="middle" fill="#111">GzmA (pg/mL)</text>
<text x="456.3" y="357.2" font-size="11.4" fill="#111"><tspan font-style="italic">r</tspan><tspan font-size="9.1" dy="-4.4" dx="0.3">2</tspan><tspan dy="4.4" dx="0.2">=0.02338</tspan></text>
<text x="456.6" y="371.09999999999997" font-size="11.4" fill="#111"><tspan font-style="italic">P</tspan>=.618</text>
<path d="M363.8 474.4 V583.5 H509.2" fill="none" stroke="#333" stroke-width="1"/>
<path d="M361.6 583.5 H363.8" stroke="#333" stroke-width="1"/>
<text x="360.6" y="587.1" font-size="11.0" text-anchor="end" fill="#111">0</text>
<path d="M361.6 556.23 H363.8" stroke="#333" stroke-width="1"/>
<text x="360.6" y="559.83" font-size="11.0" text-anchor="end" fill="#111">5</text>
<path d="M361.6 528.95 H363.8" stroke="#333" stroke-width="1"/>
<text x="360.6" y="532.55" font-size="11.0" text-anchor="end" fill="#111">10</text>
<path d="M361.6 501.67 H363.8" stroke="#333" stroke-width="1"/>
<text x="360.6" y="505.27" font-size="11.0" text-anchor="end" fill="#111">15</text>
<path d="M361.6 474.4 H363.8" stroke="#333" stroke-width="1"/>
<text x="360.6" y="478" font-size="11.0" text-anchor="end" fill="#111">20</text>
<path d="M363.8 583.5 V585.7" stroke="#333" stroke-width="1"/>
<text x="363.8" y="596.9" font-size="11.0" text-anchor="middle" fill="#111">0</text>
<path d="M412.27 583.5 V585.7" stroke="#333" stroke-width="1"/>
<text x="412.27" y="596.9" font-size="11.0" text-anchor="middle" fill="#111">50</text>
<path d="M460.73 583.5 V585.7" stroke="#333" stroke-width="1"/>
<text x="460.73" y="596.9" font-size="11.0" text-anchor="middle" fill="#111">100</text>
<path d="M509.2 583.5 V585.7" stroke="#333" stroke-width="1"/>
<text x="509.2" y="596.9" font-size="11.0" text-anchor="middle" fill="#111">150</text>
<path d="M366.5 562.8 L505.0 530.0" stroke="#111" stroke-width="1"/>
<circle cx="380.7" cy="480.3" r="2.0" fill="#000"/>
<circle cx="415.8" cy="493.6" r="2.0" fill="#000"/>
<circle cx="506.7" cy="534.8" r="2.0" fill="#000"/>
<circle cx="380.4" cy="550.0" r="2.0" fill="#000"/>
<circle cx="411.9" cy="548.9" r="2.0" fill="#000"/>
<circle cx="407.0" cy="556.2" r="2.0" fill="#000"/>
<circle cx="385.3" cy="563.4" r="2.0" fill="#000"/>
<circle cx="366.5" cy="574.3" r="2.0" fill="#000"/>
<circle cx="379.2" cy="578.5" r="2.0" fill="#000"/>
<circle cx="419.2" cy="575.4" r="2.0" fill="#000"/>
<circle cx="370.8" cy="583.5" r="2.0" fill="#000"/>
<circle cx="392.2" cy="583.5" r="2.0" fill="#000"/>
<circle cx="397.3" cy="583.5" r="2.0" fill="#000"/>
<text transform="translate(338.3 523.2) rotate(-90)" font-size="12.0" text-anchor="middle" fill="#111">GzmA (pg/mL)</text>
<text x="437.6" y="613.5" font-size="11.6" text-anchor="middle" fill="#111">GzmB (pg/mL)</text>
<text x="460.4" y="496.6" font-size="11.4" fill="#111"><tspan font-style="italic">r</tspan><tspan font-size="9.1" dy="-4.4" dx="0.3">2</tspan><tspan dy="4.4" dx="0.2">=0.06148</tspan></text>
<text x="460.7" y="510.5" font-size="11.4" fill="#111"><tspan font-style="italic">P</tspan>=.414</text>
</svg>
</body></html>
